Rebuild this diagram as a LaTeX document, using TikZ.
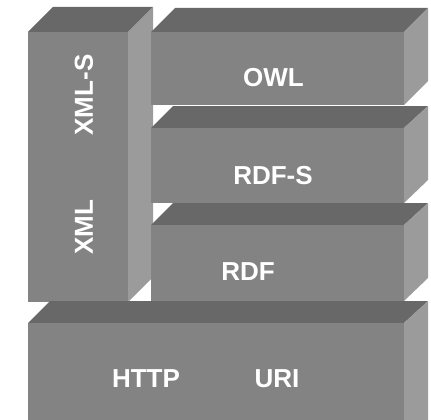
\documentclass[tikz,border=0pt]{standalone}
\usepackage{fontspec}
\setmainfont{Liberation Sans}
\definecolor{frontgray}{RGB}{131,131,131}
\definecolor{topgray}{RGB}{104,104,104}
\definecolor{sidegray}{RGB}{155,155,155}
\begin{document}
\begin{tikzpicture}[x=1pt,y=-1pt,
  frontface/.style={fill=frontgray},
  topface/.style={fill=topgray},
  sideface/.style={fill=sidegray},
  lbl/.style={text=white,font=\fontsize{26}{26}\selectfont\bfseries,inner sep=0pt}]
\useasboundingbox (0,0) rectangle (431,420);
\begin{scope}
\clip (0,0) rectangle (431,420);
% XML column
\fill[topface] (28,32) -- (53,7) -- (153,7) -- (128,32) -- cycle;
\fill[sideface] (128,32) -- (153,7) -- (153,277) -- (128,302) -- cycle;
\fill[frontface] (28,32) rectangle (128,302);
% OWL
\fill[topface] (151,32) -- (175,8) -- (428,8) -- (404,32) -- cycle;
\fill[sideface] (404,32) -- (428,8) -- (428,81) -- (404,105) -- cycle;
\fill[frontface] (151,32) rectangle (404,105);
% RDF-S
\fill[topface] (151,128) -- (173,106) -- (428,106) -- (404,128) -- cycle;
\fill[sideface] (404,128) -- (428,106) -- (428,180) -- (404,203) -- cycle;
\fill[frontface] (151,128) rectangle (404,203);
% RDF
\fill[topface] (151,225) -- (173,203) -- (428,203) -- (404,225) -- cycle;
\fill[sideface] (404,225) -- (428,203) -- (428,278) -- (404,301) -- cycle;
\fill[frontface] (151,225) rectangle (404,301);
% HTTP / URI
\fill[topface] (28,323) -- (50,301) -- (428,301) -- (404,323) -- cycle;
\fill[sideface] (404,323) -- (428,301) -- (428,430) -- (404,440) -- cycle;
\fill[frontface] (28,323) rectangle (404,440);
\end{scope}
\node[lbl] (owl) at (273.5,77.5) {OWL};
\node[lbl] (rdfs) at (273,175.5) {RDF-S};
\node[lbl] (rdf) at (248,272) {RDF};
\node[lbl] (http) at (146,379) {HTTP};
\node[lbl] (uri) at (277,379) {URI};
\node[lbl,rotate=90] (xmls) at (84,95) {XML-S};
\node[lbl,rotate=90] (xml) at (84,227.5) {XML};
\end{tikzpicture}
\end{document}
